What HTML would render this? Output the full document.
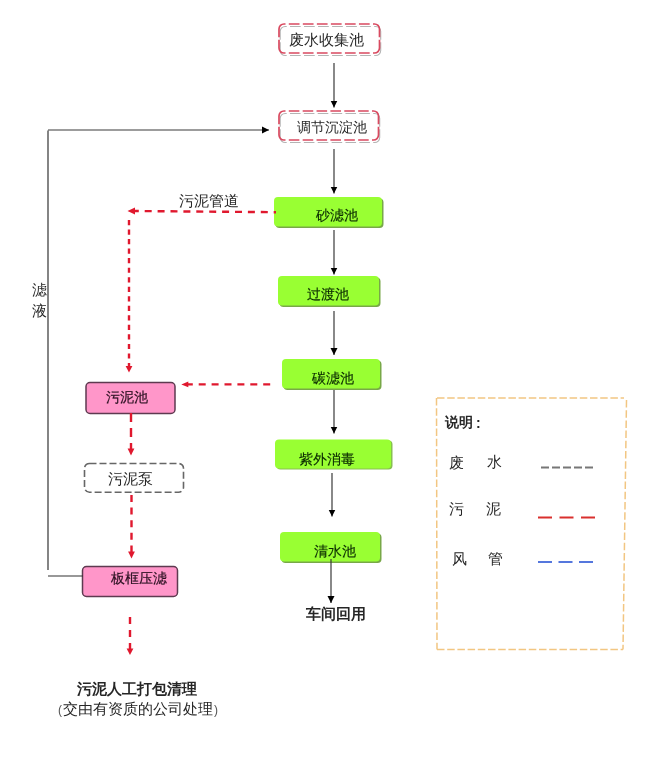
<!DOCTYPE html>
<html><head><meta charset="utf-8">
<style>
html,body{margin:0;padding:0;background:#fff;}
body{width:667px;height:759px;position:relative;overflow:hidden;font-family:"Liberation Sans",sans-serif;}
.t{position:absolute;white-space:nowrap;line-height:1;color:#262626;will-change:transform;}
.b{font-weight:bold;}
.g{color:#0a2a00;-webkit-text-stroke:0.15px #0a2a00;}
.p{color:#2a1020;-webkit-text-stroke:0.2px #2a1020;}
svg{position:absolute;left:0;top:0;}
</style></head><body>
<svg width="667" height="759" viewBox="0 0 667 759">
<defs>
<marker id="ab" markerWidth="7" markerHeight="8" refX="7" refY="4" orient="auto" markerUnits="userSpaceOnUse"><path d="M0,0.5 L7,4 L0,7.5 z" fill="#000"/></marker>
</defs>
<path d="M280.2,39.8 V31.5 A5,5 0 0 1 285.2,26.5 H286.7 M280.2,42.2 V50.5 A5,5 0 0 0 285.2,55.5 H286.7 M374.2,26.5 H375.7 A5,5 0 0 1 380.7,31.5 V39.8 M380.7,42.2 V50.5 A5,5 0 0 1 375.7,55.5 H374.2" fill="none" stroke="#b4b4b4" stroke-width="1.1"/>
<path d="M290.0,26.5 H370.9 M290.0,55.5 H370.9" fill="none" stroke="#b4b4b4" stroke-width="1.1" stroke-dasharray="10.73 3.3"/>
<path d="M279,37.3 V29 A5,5 0 0 1 284,24 H285.5 M279,39.7 V48 A5,5 0 0 0 284,53 H285.5 M373.0,24 H374.5 A5,5 0 0 1 379.5,29 V37.3 M379.5,39.7 V48 A5,5 0 0 1 374.5,53 H373.0" fill="none" stroke="#d94a60" stroke-width="1.7"/>
<path d="M288.8,24 H369.7 M288.8,53 H369.7" fill="none" stroke="#d94a60" stroke-width="1.7" stroke-dasharray="10.73 3.3"/>
<path d="M280.2,126.8 V118.5 A5,5 0 0 1 285.2,113.5 H286.7 M280.2,129.2 V137.5 A5,5 0 0 0 285.2,142.5 H286.7 M373.2,113.5 H374.7 A5,5 0 0 1 379.7,118.5 V126.8 M379.7,129.2 V137.5 A5,5 0 0 1 374.7,142.5 H373.2" fill="none" stroke="#b4b4b4" stroke-width="1.1"/>
<path d="M290.0,113.5 H369.9 M290.0,142.5 H369.9" fill="none" stroke="#b4b4b4" stroke-width="1.1" stroke-dasharray="10.57 3.3"/>
<path d="M279,124.3 V116 A5,5 0 0 1 284,111 H285.5 M279,126.7 V135 A5,5 0 0 0 284,140 H285.5 M372.0,111 H373.5 A5,5 0 0 1 378.5,116 V124.3 M378.5,126.7 V135 A5,5 0 0 1 373.5,140 H372.0" fill="none" stroke="#d94a60" stroke-width="1.7"/>
<path d="M288.8,111 H368.7 M288.8,140 H368.7" fill="none" stroke="#d94a60" stroke-width="1.7" stroke-dasharray="10.57 3.3"/>

<!-- green boxes -->
<g fill="#99ff33">
<rect x="275.5" y="198.5" width="108" height="29.5" rx="4" fill="#78a848"/>
<rect x="274" y="197" width="108" height="29.5" rx="4"/>
<rect x="279.5" y="277.5" width="101" height="29.5" rx="4" fill="#78a848"/>
<rect x="278" y="276" width="101" height="29.5" rx="4"/>
<rect x="283.5" y="360.5" width="98" height="29.5" rx="4" fill="#78a848"/>
<rect x="282" y="359" width="98" height="29.5" rx="4"/>
<rect x="276.5" y="440.5" width="116" height="29" rx="4" fill="#88c050"/>
<rect x="275" y="439.5" width="116" height="29" rx="4"/>
<rect x="281.5" y="533.5" width="100" height="29.5" rx="4" fill="#78a848"/>
<rect x="280" y="532" width="100" height="29.5" rx="4"/>
</g>
<!-- pink boxes -->
<rect x="86" y="382.5" width="89" height="31" rx="4" fill="#ff96c9" stroke="#5e3a50" stroke-width="1.5"/>
<rect x="82.5" y="566.5" width="95" height="30" rx="4" fill="#ff96c9" stroke="#5e3a50" stroke-width="1.5"/>
<!-- sludge pump gray dashed -->
<rect x="84.5" y="463.5" width="99" height="28.8" rx="5" fill="none" stroke="#666" stroke-width="1.6" stroke-dasharray="7 3"/>
<!-- black arrows -->
<g stroke="#3a3a3a" stroke-width="1.2" fill="none" marker-end="url(#ab)">
<line x1="334" y1="63" x2="334" y2="107.5"/>
<line x1="334" y1="149" x2="334" y2="193.5"/>
<line x1="334" y1="230" x2="334" y2="274.5"/>
<line x1="334" y1="311" x2="334" y2="355"/>
<line x1="334" y1="390" x2="334" y2="433.5"/>
<line x1="332" y1="473" x2="332" y2="516.5"/>
<line x1="331" y1="559" x2="331" y2="603"/>
<line x1="48" y1="130" x2="269" y2="130"/>
</g>
<g stroke="#333" stroke-width="1.2" fill="none">
<line x1="48" y1="130.5" x2="48" y2="570"/>
<line x1="48" y1="576" x2="83" y2="576"/>
</g>
<!-- red dashed -->
<g stroke="#e0182e" stroke-width="2.4" fill="none">
<line x1="131.8" y1="211" x2="276" y2="212.2" stroke-dasharray="7 5.9"/>
<line x1="129" y1="220" x2="129" y2="368" stroke-dasharray="5.2 4.33"/>
<line x1="185.8" y1="384.4" x2="271" y2="384.4" stroke-dasharray="7 5.9"/>
<line x1="131" y1="413" x2="131" y2="449" stroke-dasharray="9 6"/>
<line x1="131.5" y1="495" x2="131.5" y2="553" stroke-dasharray="7 5.6"/>
<line x1="130" y1="617" x2="130" y2="650" stroke-dasharray="7 6"/>
</g>
<g fill="#e0182e">
<path d="M127.5,211 L135,207.5 L135,214.5 z"/>
<path d="M125.6,366 L132.4,366 L129,372.5 z"/>
<path d="M181.3,384.4 L188.3,381.5 L188.3,387.3 z"/>
<path d="M127.6,448.5 L134.4,448.5 L131,455.6 z"/>
<path d="M128.1,551.5 L134.9,551.5 L131.5,558.5 z"/>
<path d="M126.6,648.5 L133.4,648.5 L130,655 z"/>
</g>
<!-- legend box -->
<g stroke="#f2c682" stroke-width="1.5" fill="none" stroke-dasharray="7.5 2.7">
<line x1="437" y1="398" x2="624" y2="398"/>
<line x1="626.5" y1="400" x2="623" y2="649.5"/>
<line x1="437" y1="649.5" x2="623" y2="649.5"/>
<line x1="436.5" y1="398" x2="437" y2="649.5"/>
</g>
<line x1="541" y1="467.5" x2="594" y2="467.5" stroke="#777" stroke-width="2" stroke-dasharray="8 3"/>
<line x1="538" y1="517.5" x2="596" y2="517.5" stroke="#d9302e" stroke-width="2" stroke-dasharray="14 7.5"/>
<line x1="538" y1="562" x2="593" y2="562" stroke="#5577dd" stroke-width="2" stroke-dasharray="14 6.5"/>
</svg>
<div class="t" style="left:289.10px;top:32.85px;font-size:14.59px;">废水收集池</div>
<div class="t" style="left:297.10px;top:120.20px;font-size:14.40px;">调节沉淀池</div>
<div class="t g" style="left:316.00px;top:207.60px;font-size:14.13px;">砂滤池</div>
<div class="t g" style="left:307.30px;top:288.30px;font-size:13.80px;">过渡池</div>
<div class="t g" style="left:312.20px;top:371.20px;font-size:14.13px;">碳滤池</div>
<div class="t g" style="left:299.25px;top:452.40px;font-size:14.38px;">紫外消毒</div>
<div class="t g" style="left:313.80px;top:544.20px;font-size:14.27px;">清水池</div>
<div class="t p" style="left:106.20px;top:389.60px;font-size:14.13px;">污泥池</div>
<div class="t" style="left:107.50px;top:472.20px;font-size:14.79px;">污泥泵</div>
<div class="t p" style="left:111.30px;top:571.40px;font-size:14.45px;">板框压滤</div>
<div class="t" style="left:179.30px;top:193.55px;font-size:14.95px;">污泥管道</div>
<div class="t" style="left:31.85px;top:281.90px;font-size:15.00px;">滤</div>
<div class="t" style="left:32.35px;top:302.80px;font-size:15.00px;">液</div>
<div class="t b" style="left:305.70px;top:606.50px;font-size:14.54px;">车间回用</div>
<div class="t b" style="left:77.15px;top:682.35px;font-size:14.64px;">污泥人工打包清理</div>
<div class="t" style="left:62.60px;top:702.40px;font-size:14.80px;">交由有资质的公司处理</div>
<div class="t b" style="left:444.75px;top:414.95px;font-size:14.00px;">说明</div>
<div class="t" style="left:449.30px;top:454.70px;font-size:15.00px;">废</div>
<div class="t" style="left:486.95px;top:453.90px;font-size:15.00px;">水</div>
<div class="t" style="left:448.90px;top:500.50px;font-size:15.00px;">污</div>
<div class="t" style="left:485.85px;top:500.50px;font-size:15.00px;">泥</div>
<div class="t" style="left:452.10px;top:550.80px;font-size:15.00px;">风</div>
<div class="t" style="left:487.90px;top:550.80px;font-size:15.00px;">管</div>
<div class="t" style="left:57.50px;top:704.00px;font-size:12.00px;color:#555;">(</div>
<div class="t" style="left:214.00px;top:704.00px;font-size:12.00px;color:#555;">)</div>
<div class="t b" style="left:476.00px;top:416.00px;font-size:14.00px;">:</div>
</body></html>
